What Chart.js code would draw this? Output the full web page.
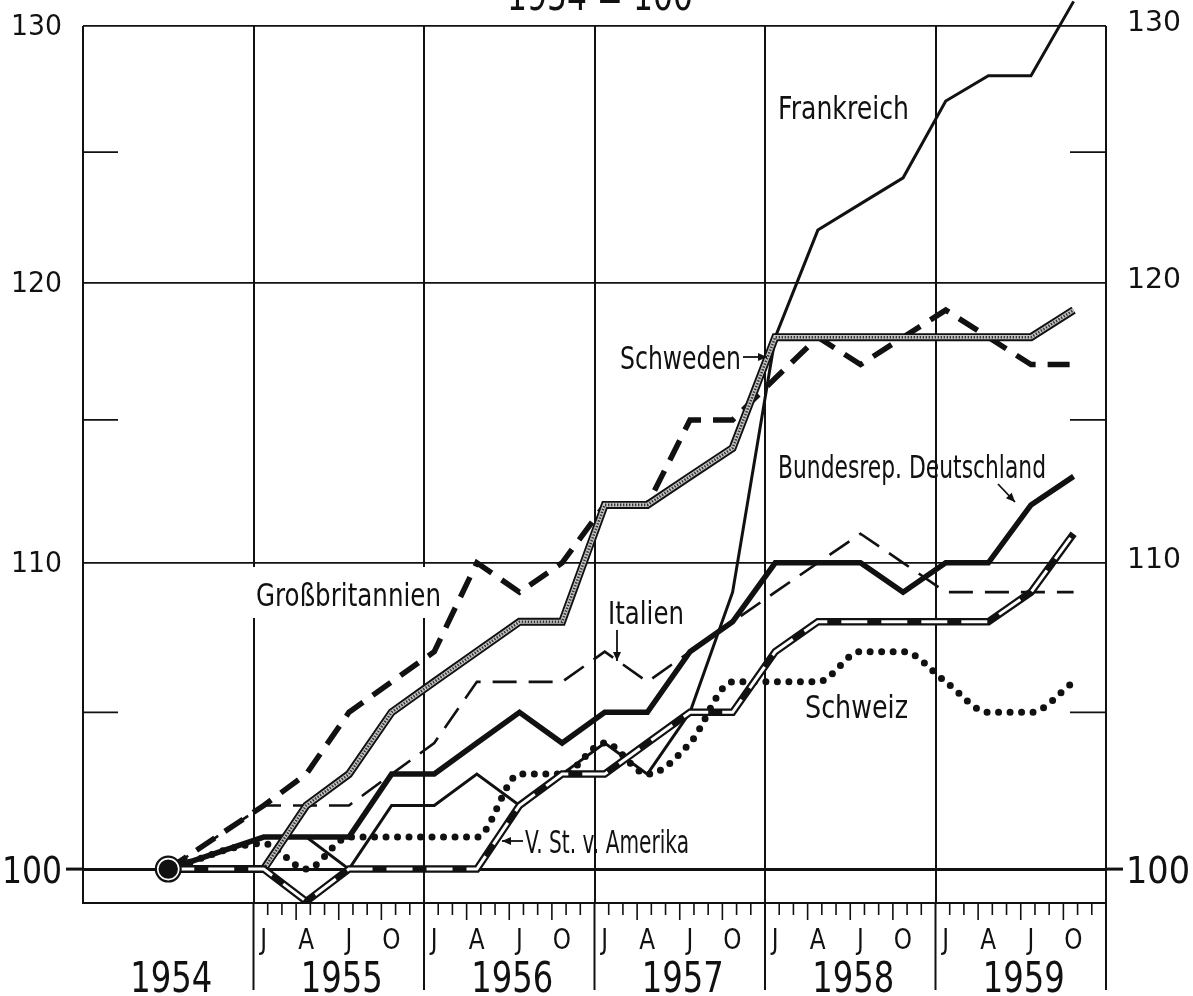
<!DOCTYPE html>
<html lang="de">
<head>
<meta charset="utf-8">
<title>1954 = 100</title>
<script src="https://cdn.jsdelivr.net/npm/chart.js@4.4.1/dist/chart.umd.min.js"></script>
<style>
html,body{margin:0;padding:0;background:#fff;overflow:hidden}
canvas{display:block}
</style>
</head>
<body>
<canvas id="chart" width="1193" height="996"></canvas>
<script>
// ---------------- data ----------------
const baseYear = 1954;
const years = [1955, 1956, 1957, 1958, 1959];
const quarters = ['J', 'A', 'J', 'O'];
const periods = ['1954'].concat(years.flatMap(y => quarters.map((q, i) => y + '-Q' + (i + 1))));
const yTicks = [100, 110, 120, 130];
const yMinorTicks = [105, 115, 125];

const bundesrep  = [100, 101, 101, 101, 103, 103, 104, 105, 104, 105, 105, 107, 108, 110, 110, 110, 109, 110, 110, 112, 113];
const frankreich = [100, 101, 101, 100, 102, 102, 103, 102, 103, 104, 103, 105, 109, 118, 122, 123, 124, 127, 128, 128, 131];
const grossbrit  = [100, 102, 103, 105, 106, 107, 110, 109, 110, 112, 112, 115, 115, 116.5, 118, 117, 118, 119, 118, 117, 117];
const italien    = [100, 102, 102, 102, 103, 104, 106, 106, 106, 107, 106, 107, 108, 109, 110, 111, 110, 109, 109, 109, 109];
const schweden   = [100, 100, 102, 103, 105, 106, 107, 108, 108, 112, 112, 113, 114, 118, 118, 118, 118, 118, 118, 118, 119];
const usa        = [100, 100, 99, 100, 100, 100, 100, 102, 103, 103, 104, 105, 105, 107, 108, 108, 108, 108, 108, 109, 111];
const schweiz    = [100, 100.8, 100, 101, 101, 101, 101, 103, 103, 104, 103, 104, 106, 106, 106, 107, 107, 106, 105, 105, 106];

// ---------------- helpers ----------------
const ink = '#111';
function periodX(p) {
  if (p === String(baseYear)) return baseYear + 0.5;
  const [y, q] = p.split('-Q');
  return Number(y) + 0.06 + 0.25 * (Number(q) - 1);
}
const pts = arr => arr.map((v, i) => ({ x: periodX(periods[i]), y: v }));
const lineDs = (label, arr, extra) => Object.assign({
  label, data: pts(arr), borderColor: ink, borderWidth: 3, pointRadius: 0,
  pointHoverRadius: 0, fill: false, tension: 0, borderJoinStyle: 'miter'
}, extra);

function text(ctx, s, x, y, o) {
  ctx.save();
  ctx.font = (o.weight || 'normal') + ' ' + o.size + 'px "DejaVu Sans", sans-serif';
  ctx.fillStyle = ink; ctx.textAlign = 'left'; ctx.textBaseline = 'alphabetic';
  const w = ctx.measureText(s).width;
  const sx = o.width ? o.width / w : (o.sx || 1);
  const tw = w * sx;
  let x0 = x;
  if (o.align === 'center') x0 = x - tw / 2; else if (o.align === 'right') x0 = x - tw;
  ctx.translate(x0, y); ctx.scale(sx, 1); ctx.fillText(s, 0, 0);
  ctx.restore();
}
function seg(ctx, x1, y1, x2, y2) { ctx.beginPath(); ctx.moveTo(x1, y1); ctx.lineTo(x2, y2); ctx.stroke(); }
function arrow(ctx, x1, y1, x2, y2) {
  ctx.save(); ctx.lineWidth = 1.8; ctx.strokeStyle = ink; ctx.fillStyle = ink;
  seg(ctx, x1, y1, x2, y2);
  const a = Math.atan2(y2 - y1, x2 - x1), h = 9, w = 4;
  ctx.beginPath();
  ctx.moveTo(x2, y2);
  ctx.lineTo(x2 - h * Math.cos(a) + w * Math.sin(a), y2 - h * Math.sin(a) - w * Math.cos(a));
  ctx.lineTo(x2 - h * Math.cos(a) - w * Math.sin(a), y2 - h * Math.sin(a) + w * Math.cos(a));
  ctx.closePath(); ctx.fill();
  ctx.restore();
}

// ---------------- decorations plugin ----------------
const decorations = {
  id: 'decorations',
  beforeDatasetsDraw(chart) {
    const { ctx, chartArea: ca } = chart;
    ctx.save();
    ctx.fillStyle = '#fff';
    ctx.fillRect(249, 567, 198, 51);           // white field behind "Großbritannien"
    ctx.strokeStyle = ink; ctx.lineWidth = 2;
    seg(ctx, ca.left - 1, ca.bottom, ca.right + 1, ca.bottom);
    ctx.restore();
  },
  afterDraw(chart) {
    const { ctx, chartArea: ca, scales: { x: xs, y: ys } } = chart;
    ctx.save();
    ctx.strokeStyle = ink; ctx.fillStyle = ink;
    // 100 line extended beyond the frame
    const y100 = ys.getPixelForValue(100);
    ctx.lineWidth = 3;
    seg(ctx, 66, y100, ca.left, y100);
    seg(ctx, ca.right, y100, ca.right + 17, y100);
    // year separators below the axis
    ctx.lineWidth = 2;
    for (let v = years[0]; v <= years[years.length - 1] + 1; v++) {
      const px = xs.getPixelForValue(v);
      seg(ctx, px, ca.bottom, px, 990);
    }
    // month ticks
    ctx.lineWidth = 1.6;
    years.forEach(yr => {
      for (let m = 1; m < 12; m++) {
        const px = xs.getPixelForValue(yr + m / 12);
        seg(ctx, px, ca.bottom, px, ca.bottom + (m % 3 === 0 ? 17 : 12));
      }
    });
    // minor y ticks inside the frame
    ctx.lineWidth = 1.8;
    yMinorTicks.forEach(v => {
      const py = ys.getPixelForValue(v);
      seg(ctx, ca.left, py, ca.left + 35, py);
      seg(ctx, ca.right - 36, py, ca.right, py);
    });
    ctx.restore();

    // quarter letters and year labels
    years.forEach(yr => quarters.forEach((q, i) =>
      text(ctx, q, xs.getPixelForValue(yr + (3 * i + 0.5) / 12) + 3, 949, { size: 29, sx: 0.8, align: 'center' })));
    [baseYear].concat(years).forEach(yr =>
      text(ctx, String(yr), xs.getPixelForValue(yr + 0.5) + 3, 992, { size: 42, width: 82, align: 'center' }));

    // y axis labels, both sides
    yTicks.forEach(v => {
      const py = ys.getPixelForValue(v);
      if (v === 100) {
        text(ctx, '100', 62, py + 14, { size: 38, width: 60, align: 'right' });
        text(ctx, '100', ca.right + 20, py + 14, { size: 38, width: 64 });
      } else {
        text(ctx, String(v), 62, py - 1 + 10, { size: 28, width: 51, align: 'right' });
        text(ctx, String(v), ca.right + 21, py - 5 + 10, { size: 28, width: 54 });
      }
    });

    // title (cut off at top as in the original)
    text(ctx, '1954 = 100', 600, 10, { size: 40, width: 186, align: 'center' });

    // series labels
    const lab = (s, x, y, w) => text(ctx, s, x, y, { size: 32, width: w });
    lab('Frankreich', 778, 119, 131);
    lab('Schweden', 620, 369, 121);
    arrow(ctx, 743, 357, 767, 357);
    lab('Bundesrep. Deutschland', 778, 478, 268);
    arrow(ctx, 998, 484, 1015, 502);
    lab('Italien', 608, 624, 76);
    arrow(ctx, 617, 630, 617, 661);
    lab('Großbritannien', 256, 606, 185);
    lab('Schweiz', 805, 718, 103);
    lab('V. St. v. Amerika', 525, 853, 164);
    arrow(ctx, 523, 841, 502, 841);
  }
};

// ---------------- chart ----------------
const startPoint = [{ x: periodX(periods[0]), y: bundesrep[0] }];
const datasets = [
  { label: 'Basis inner', data: startPoint, showLine: false, pointRadius: 10.5, pointBackgroundColor: ink, pointBorderColor: '#fff', pointBorderWidth: 1.6 },
  { label: 'Basis', data: startPoint, showLine: false, pointRadius: 13.5, pointBackgroundColor: ink, pointBorderWidth: 0 },
  lineDs('V. St. v. Amerika (innen)', usa, { borderColor: '#fff', borderWidth: 3, borderDash: [26, 14] }),
  lineDs('V. St. v. Amerika', usa, { borderWidth: 7.5 }),
  lineDs('Schweden (Raster)', schweden, { borderColor: '#333', borderWidth: 2.6, borderDash: [1.4, 1.6] }),
  lineDs('Schweden (innen)', schweden, { borderColor: '#c4c4c4', borderWidth: 4.2 }),
  lineDs('Schweden', schweden, { borderWidth: 8 }),
  lineDs('Bundesrep. Deutschland', bundesrep, { borderWidth: 5.5 }),
  lineDs('Großbritannien', grossbrit, { borderWidth: 5.5, borderDash: [22, 12] }),
  lineDs('Frankreich', frankreich, { borderWidth: 3, clip: false }),
  lineDs('Italien', italien, { borderWidth: 2.6, borderDash: [24, 12] }),
  lineDs('Schweiz', schweiz, { borderWidth: 7, borderDash: [0, 11.5], borderCapStyle: 'round', cubicInterpolationMode: 'monotone' })
];

new Chart(document.getElementById('chart'), {
  type: 'line',
  data: { datasets },
  options: {
    responsive: false, animation: false, devicePixelRatio: 1,
    events: [],
    layout: { padding: { left: 83, right: 87, top: 26, bottom: 93 } },
    plugins: { legend: { display: false }, tooltip: { enabled: false } },
    scales: {
      x: {
        type: 'linear', min: baseYear, max: years[years.length - 1] + 1,
        afterBuildTicks: s => { s.ticks = [baseYear].concat(years, [years[years.length - 1] + 1]).map(v => ({ value: v })); },
        afterFit: s => { s.height = 0; },
        ticks: { display: false },
        grid: { color: ink, lineWidth: 2, drawTicks: false },
        border: { display: false }
      },
      y: {
        type: 'logarithmic', min: 98.95, max: 130,
        afterBuildTicks: s => { s.ticks = yTicks.map(v => ({ value: v })); },
        afterFit: s => { s.width = 0; },
        ticks: { display: false },
        grid: { color: ink, lineWidth: c => (c.tick && c.tick.value === 100 ? 3 : 1.8), drawTicks: false },
        border: { display: false }
      }
    }
  },
  plugins: [decorations]
});
</script>
</body>
</html>
